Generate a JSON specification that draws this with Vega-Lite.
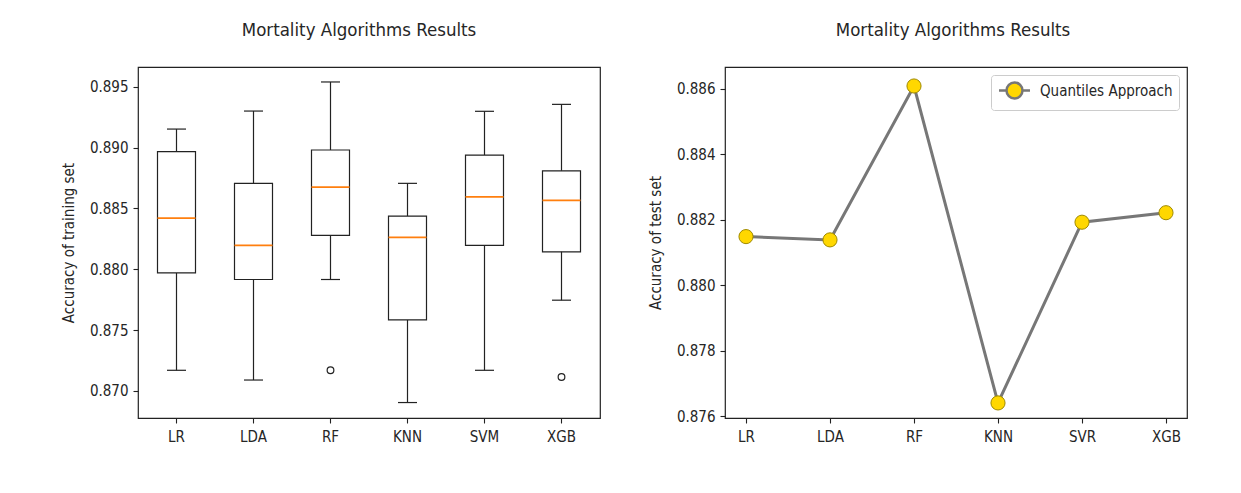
{
  "$schema": "https://vega.github.io/schema/vega-lite/v6.json",
  "background": "white",
  "padding": {"left": 60, "top": 19, "right": 5, "bottom": 5},
  "resolve": {"legend": {"color": "independent"}},
  "config": {
    "font": "DejaVu Sans Condensed",
    "view": {"stroke": "#222222", "strokeWidth": 1.2},
    "axis": {"grid": false, "domain": false, "tickColor": "#222222", "tickSize": 5, "tickWidth": 1.1,
      "labelFont": "DejaVu Sans Condensed", "labelFontSize": 15, "labelColor": "#262626",
      "titleFont": "DejaVu Sans Condensed", "titleFontSize": 15, "titleFontWeight": "normal", "titleColor": "#262626"},
    "legend": {"labelFont": "DejaVu Sans Condensed"},
    "title": {"font": "DejaVu Sans Condensed", "fontSize": 18.5, "fontWeight": "normal", "color": "#262626"},
    "concat": {"spacing": 46}
  },
  "datasets": {
    "train": [
      {"algo": "LR", "lower": 0.8717, "q1": 0.8797, "median": 0.8842, "q3": 0.88966, "upper": 0.89152},
      {"algo": "LDA", "lower": 0.8709, "q1": 0.87916, "median": 0.88196, "q3": 0.88706, "upper": 0.8930},
      {"algo": "RF", "lower": 0.87916, "q1": 0.88278, "median": 0.88675, "q3": 0.8898, "upper": 0.89539},
      {"algo": "KNN", "lower": 0.86905, "q1": 0.87584, "median": 0.88262, "q3": 0.88437, "upper": 0.88706},
      {"algo": "SVM", "lower": 0.8717, "q1": 0.88196, "median": 0.88595, "q3": 0.88938, "upper": 0.89298},
      {"algo": "XGB", "lower": 0.87746, "q1": 0.88143, "median": 0.88566, "q3": 0.88809, "upper": 0.89355}
    ],
    "outliers": [
      {"algo": "RF", "value": 0.8717},
      {"algo": "XGB", "value": 0.87115}
    ],
    "test": [
      {"algo": "LR", "accuracy": 0.88149, "series": "Quantiles Approach"},
      {"algo": "LDA", "accuracy": 0.88139, "series": "Quantiles Approach"},
      {"algo": "RF", "accuracy": 0.88609, "series": "Quantiles Approach"},
      {"algo": "KNN", "accuracy": 0.87641, "series": "Quantiles Approach"},
      {"algo": "SVR", "accuracy": 0.88193, "series": "Quantiles Approach"},
      {"algo": "XGB", "accuracy": 0.88222, "series": "Quantiles Approach"}
    ]
  },
  "hconcat": [
    {
      "width": 462,
      "height": 351,
      "title": {"text": "Mortality Algorithms Results", "offset": 28, "dx": -10},
      "data": {"name": "train"},
      "encoding": {
        "x": {"field": "algo", "type": "nominal", "sort": null,
          "scale": {"type": "band", "domain": ["LR", "LDA", "RF", "KNN", "SVM", "XGB"], "paddingInner": 0, "paddingOuter": 0},
          "axis": {"title": null, "labelAngle": 0, "labelPadding": 6}}
      },
      "layer": [
        {
          "mark": {"type": "rule", "color": "#222222", "strokeWidth": 1.2},
          "encoding": {
            "y": {"field": "lower", "type": "quantitative",
              "scale": {"domain": [0.86778, 0.89662], "nice": false, "zero": false},
              "axis": {"title": "Accuracy of training set", "values": [0.870, 0.875, 0.880, 0.885, 0.890, 0.895], "format": ".3f", "labelPadding": 5, "titlePadding": 13}},
            "y2": {"field": "upper"}
          }
        },
        {
          "mark": {"type": "bar", "fill": "white", "stroke": "#222222", "strokeWidth": 1.2, "size": 38},
          "encoding": {"y": {"field": "q1", "type": "quantitative"}, "y2": {"field": "q3"}}
        },
        {
          "mark": {"type": "tick", "color": "#ff7f0e", "thickness": 1.6, "size": 38, "opacity": 1},
          "encoding": {"y": {"field": "median", "type": "quantitative"}}
        },
        {
          "mark": {"type": "tick", "color": "#222222", "thickness": 1.2, "size": 19, "opacity": 1},
          "encoding": {"y": {"field": "lower", "type": "quantitative"}}
        },
        {
          "mark": {"type": "tick", "color": "#222222", "thickness": 1.2, "size": 19, "opacity": 1},
          "encoding": {"y": {"field": "upper", "type": "quantitative"}}
        },
        {
          "data": {"name": "outliers"},
          "mark": {"type": "point", "shape": "circle", "filled": false, "color": "#222222", "size": 45, "strokeWidth": 1.2, "opacity": 1},
          "encoding": {"y": {"field": "value", "type": "quantitative"}}
        }
      ]
    },
    {
      "width": 462,
      "height": 351,
      "title": {"text": "Mortality Algorithms Results", "offset": 28, "dx": -3},
      "data": {"name": "test"},
      "encoding": {
        "x": {"field": "algo", "type": "ordinal", "sort": null,
          "scale": {"type": "point", "padding": 0.25, "domain": ["LR", "LDA", "RF", "KNN", "SVR", "XGB"]},
          "axis": {"title": null, "labelAngle": 0, "labelPadding": 6}},
        "y": {"field": "accuracy", "type": "quantitative",
          "scale": {"domain": [0.87595, 0.88667], "nice": false, "zero": false},
          "axis": {"title": "Accuracy of test set", "values": [0.876, 0.878, 0.880, 0.882, 0.884, 0.886], "format": ".3f", "labelPadding": 5, "titlePadding": 13}}
      },
      "layer": [
        {
          "mark": {"type": "line", "color": "#777777", "strokeWidth": 3}
        },
        {
          "mark": {"type": "point", "shape": "circle", "filled": true, "size": 200, "stroke": "#a08a00", "strokeWidth": 1, "opacity": 1},
          "encoding": {
            "color": {"field": "series", "type": "nominal", "scale": {"range": ["#ffd700"]},
              "legend": {"title": null, "orient": "top-right", "offset": 8, "padding": 6,
                "strokeColor": "#cccccc", "fillColor": "white", "cornerRadius": 3,
                "symbolType": "M-1.94,0L-1,0M1,0L1.94,0M1,0A1,1,0,1,1,-1,0A1,1,0,1,1,1,0Z",
                "symbolSize": 256, "symbolOffset": 8, "labelFontSize": 15, "labelColor": "#262626", "labelOffset": 16,
                "symbolFillColor": "#ffd700", "symbolStrokeColor": "#777777", "symbolStrokeWidth": 2.5,
                "symbolOpacity": 1}}
          }
        }
      ]
    }
  ]
}
